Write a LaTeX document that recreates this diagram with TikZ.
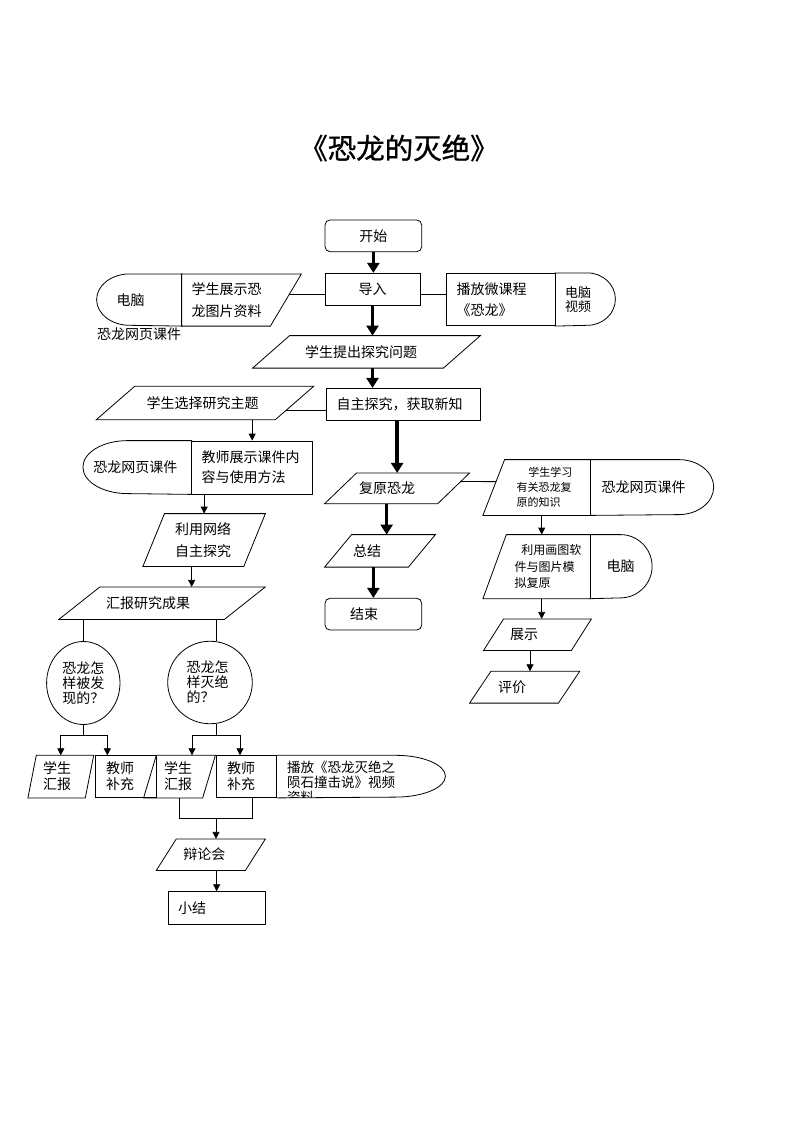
\documentclass[tikz,border=0pt]{standalone}
\usepackage{fontspec}
\setmainfont{Noto Sans CJK SC}
\newfontfamily\titlefont[FakeBold=1]{Noto Sans CJK SC}
\usepackage{tikz}
\usetikzlibrary{arrows.meta,calc,shapes.geometric}

\tikzset{
  blk/.style={inner sep=0pt, align=left, font=\fontsize{14}{20}\selectfont},
  fs/.style 2 args={font=\fontsize{#1}{#2}\selectfont},
  thk/.style={line width=3.5pt, -{Triangle[width=12pt,length=10pt]}},
  arr/.style={-{Triangle[width=7pt,length=7pt]}}
}

\begin{document}
\begin{tikzpicture}[x=1pt,y=-1pt,line width=0.8pt]
\useasboundingbox (0,0) rectangle (800,1132);

\node[font=\titlefont\fontsize{28.5}{32}\selectfont] (title) at (399,148) {《恐龙的灭绝》};

% main line
\node[blk, draw, rounded corners=5pt, minimum width=96.7pt, minimum height=31.7pt] (start) at (373.35,235.85) {开始};
\node[blk, draw, minimum width=95pt, minimum height=31.7pt] (intro) at (372.5,289.15) {导入};
\draw[thk] (start) -- (start |- intro.north);

% left of intro
\node[blk, minimum width=85pt, minimum height=51.4pt, text width=45.6pt] (pcA) at (139.5,300) {电脑};
\draw (pcA.north east) -- ([xshift=33pt]pcA.north west) arc[start angle=90, end angle=270, x radius=33pt, y radius=25.7pt] -- (pcA.south east);
\node[blk, fs={14}{22.7}, minimum width=119pt, minimum height=51.4pt, text width=99.6pt] (show) at (241.5,300) {学生展示恐\\龙图片资料};
\draw (show.north west) -- (show.north east) -- ([xshift=-31pt]show.south east) -- (show.south west) -- cycle;
\node[blk, anchor=west] (webA) at (96.7,334) {恐龙网页课件};

% right of intro
\node[blk, draw, fs={14}{21}, minimum width=109pt, minimum height=52.4pt, text width=87.6pt] (clip) at (500.5,299.5) {播放微课程\\《恐龙》};
\node[blk, fs={13}{13.7}, minimum width=60pt, minimum height=52.4pt, text width=40pt] (pcB) at (585,299.5) {电脑\\视频};
\draw (pcB.north west) -- ([xshift=-28pt]pcB.north east) arc[start angle=90, end angle=-90, x radius=28pt, y radius=26.2pt] -- (pcB.south west);

\coordinate (showR) at ($(show.north east)!0.39!([xshift=-31pt]show.south east)$);
\draw (showR) -- (showR -| intro.west);
\draw (intro.east |- showR) -- (showR -| clip.west);

\node[blk, minimum width=227pt, minimum height=31.7pt, text width=123pt] (ask) at (366.5,351.85) {学生提出探究问题};
\draw ([xshift=37pt]ask.north west) -- (ask.north east) -- ([xshift=-37pt]ask.south east) -- (ask.south west) -- cycle;
\draw[thk] (intro) -- (intro |- ask.north);

\node[blk, draw, minimum width=154.7pt, minimum height=31.7pt, text width=133.3pt] (explore) at (403.35,404.15) {自主探究，获取新知};
\draw[thk] (intro.south |- ask.south) -- (intro.south |- explore.north);

% left branch
\node[blk, minimum width=216.6pt, minimum height=32.6pt, text width=116.6pt] (choose) at (205,403) {学生选择研究主题};
\draw ([xshift=38.4pt]choose.north west) -- (choose.north east) -- ([xshift=-38.4pt]choose.south east) -- (choose.south west) -- cycle;
\coordinate (chooseR) at ($(choose.north east)!0.715!([xshift=-38.4pt]choose.south east)$);
\draw (chooseR) -- (chooseR -| explore.west);

\node[blk, minimum width=108.4pt, minimum height=53pt, text width=88.4pt] (web2) at (137.5,467.5) {恐龙网页课件};
\draw (web2.north east) -- ([xshift=44.7pt]web2.north west) arc[start angle=90, end angle=270, x radius=44.7pt, y radius=26.5pt] -- (web2.south east);
\node[blk, draw, fs={14}{20}, minimum width=121pt, minimum height=53pt, text width=101pt] (teach) at (252.2,467.5) {教师展示课件内\\容与使用方法};
\draw[arr] (teach.north |- choose.south) -- (teach.north);

\node[blk, fs={14}{21.7}, minimum width=121.7pt, minimum height=52pt, text width=58.3pt] (net) at (204.15,540) {利用网络\\自主探究};
\draw ([xshift=21.6pt]net.north west) -- (net.north east) -- ([xshift=-21.6pt]net.south east) -- (net.south west) -- cycle;
\draw[arr] (net.north |- teach.south) -- (net.north);

\node[blk, minimum width=205.7pt, minimum height=31.7pt, text width=112.3pt] (report) at (162.15,603.15) {汇报研究成果};
\draw ([xshift=41pt]report.north west) -- (report.north east) -- ([xshift=-41pt]report.south east) -- (report.south west) -- cycle;
\draw[arr] ([xshift=-12.5pt]net.south) -- ([xshift=-12.5pt]net.south |- report.north);

\node[blk, draw, ellipse, fs={14}{15}, minimum width=73.4pt, minimum height=83pt, text width=42pt] (q1) at (83.3,683) {恐龙怎\\样被发\\现的？};
\node[blk, draw, ellipse, fs={14}{15}, minimum width=84.6pt, minimum height=82.5pt, text width=46.6pt] (q2) at (210,682.5) {恐龙怎\\样灭绝\\的？};
\draw (q1.north |- report.south) -- (q1.north);
\draw ([xshift=6pt]q2.north |- report.south) -- ([xshift=6pt]q2.north);

\node[blk, fs={14}{16}, minimum width=65pt, minimum height=41.8pt, text width=35.6pt] (stuA) at (60.8,776.6) {学生\\汇报};
\draw ([xshift=8.4pt]stuA.north west) -- (stuA.north east) -- ([xshift=-8.4pt]stuA.south east) -- (stuA.south west) -- cycle;
\node[blk, draw, fs={14}{16}, minimum width=61.7pt, minimum height=41.8pt, text width=39.7pt] (tchA) at (125.85,776.6) {教师\\补充};
\node[blk, fs={14}{16}, minimum width=71pt, minimum height=41.8pt, text width=31pt] (stuB) at (179.5,776.6) {学生\\汇报};
\draw ([xshift=12.7pt]stuB.north west) -- (stuB.north east) -- ([xshift=-12.7pt]stuB.south east) -- (stuB.south west) -- cycle;
\node[blk, draw, fs={14}{16}, minimum width=60.7pt, minimum height=41.8pt, text width=38.7pt] (tchB) at (246.35,776.6) {教师\\补充};
\draw (tchB.north east) -- ([xshift=118.3pt]tchB.north east) arc[start angle=90, end angle=-90, x radius=50pt, y radius=20.9pt] -- (tchB.south east);
\begin{scope}
\clip (tchB.north east) rectangle (446,797.5);
\node[blk, fs={13.5}{14.6}, anchor=west] (video) at (286.7,782.3) {播放《恐龙灭绝之\\陨石撞击说》视频\\资料};
\end{scope}

\draw (q1.south) -- ++(0,10.5) coordinate (forkA);
\draw ([xshift=6pt]q2.south) -- ++(0,11) coordinate (forkB);
\draw[arr] (forkA) -| (stuA.north);
\draw[arr] (forkA) -| ([xshift=-18.5pt]tchA.north);
\draw[arr] (forkB) -| ([xshift=12.5pt]stuB.north);
\draw[arr] (forkB) -| ([xshift=-6.35pt]tchB.north);

\node[blk, minimum width=108.3pt, minimum height=30.7pt, text width=55.1pt] (debate) at (210.85,854.65) {辩论会};
\draw ([xshift=20pt]debate.north west) -- (debate.north east) -- ([xshift=-20pt]debate.south east) -- (debate.south west) -- cycle;
\coordinate (mergeB) at ([yshift=-20.2pt]stuB.south -| forkB);
\draw (stuB.south) |- (mergeB) -| ([xshift=6pt]tchB.south);
\draw[arr] (mergeB) -- (mergeB |- debate.north);

\node[blk, draw, minimum width=96.7pt, minimum height=32.3pt, text width=77.3pt] (summary) at (216.65,907.85) {小结};
\draw[arr] (summary.north |- debate.south) -- (summary.north);

% right branch
\node[blk, minimum width=144.3pt, minimum height=30pt, text width=76.3pt] (restore) at (397.15,488.3) {复原恐龙};
\draw ([xshift=32pt]restore.north west) -- (restore.north east) -- ([xshift=-32pt]restore.south east) -- (restore.south west) -- cycle;
\draw[thk] (restore.north |- explore.south) -- (restore.north);

\node[blk, minimum width=110pt, minimum height=31.7pt, text width=54pt] (summ) at (380,550.85) {总结};
\draw ([xshift=27pt]summ.north west) -- (summ.north east) -- ([xshift=-27pt]summ.south east) -- (summ.south west) -- cycle;
\draw[thk] ([xshift=-10.5pt]restore.south) -- ([xshift=-10.5pt]restore.south |- summ.north);

\node[blk, draw, rounded corners=5pt, minimum width=96.7pt, minimum height=31.7pt, text width=46.7pt] (stop) at (373.35,614.15) {结束};
\draw[thk] (stop.north |- summ.south) -- (stop.north);

\node[blk, fs={11}{15}, minimum width=85pt, minimum height=55pt, text width=61.6pt] (learn) at (547.5,487.5) {\hspace*{11.6pt}学生学习\\有关恐龙复\\原的知识};
\draw (learn.north west) -- (learn.north east) -- (learn.south east) -- ([xshift=-21.7pt]learn.south west) -- cycle;
\node[blk, minimum width=123.3pt, minimum height=55pt, text width=99.9pt] (web3) at (651.65,487.5) {恐龙网页课件};
\draw (web3.north west) -- ([xshift=-35pt]web3.north east) arc[start angle=90, end angle=-90, x radius=35pt, y radius=27.5pt] -- (web3.south west);
\coordinate (restoreR) at ($(restore.north east)!0.28!([xshift=-32pt]restore.south east)$);
\coordinate (learnL) at ($(learn.north west)!0.395!([xshift=-21.7pt]learn.south west)$);
\draw (restoreR) -- (learnL);

\node[blk, fs={12}{16.7}, minimum width=83.3pt, minimum height=63.3pt, text width=67.5pt] (paint) at (548.35,566.65) {\hspace*{6.7pt}利用画图软\\件与图片模\\拟复原};
\draw (paint.north west) -- (paint.north east) -- (paint.south east) -- ([xshift=-23.4pt]paint.south west) -- cycle;
\node[blk, minimum width=61.7pt, minimum height=63.3pt, text width=28.3pt] (pcC) at (620.85,566.65) {电脑};
\draw (pcC.north west) -- ([xshift=-31.7pt]pcC.north east) arc[start angle=90, end angle=-90, x radius=31.7pt, y radius=31.65pt] -- (pcC.south west);
\draw[arr] ([xshift=-5.8pt]learn.south) -- ([xshift=-5.8pt]learn.south |- paint.north);

\node[blk, minimum width=107pt, minimum height=30.7pt, text width=55pt] (show2) at (537.5,634.65) {展示};
\draw ([xshift=20pt]show2.north west) -- (show2.north east) -- ([xshift=-20pt]show2.south east) -- (show2.south west) -- cycle;
\draw[arr] ([xshift=-6.65pt]paint.south) -- ([xshift=-6.65pt]paint.south |- show2.north);

\node[blk, minimum width=109.3pt, minimum height=31pt, text width=53.3pt] (judge) at (524.65,687.2) {评价};
\draw ([xshift=21.3pt]judge.north west) -- (judge.north east) -- ([xshift=-21.3pt]judge.south east) -- (judge.south west) -- cycle;
\draw[arr] ([xshift=-7.5pt]show2.south) -- ([xshift=-7.5pt]show2.south |- judge.north);
\end{tikzpicture}
\end{document}
